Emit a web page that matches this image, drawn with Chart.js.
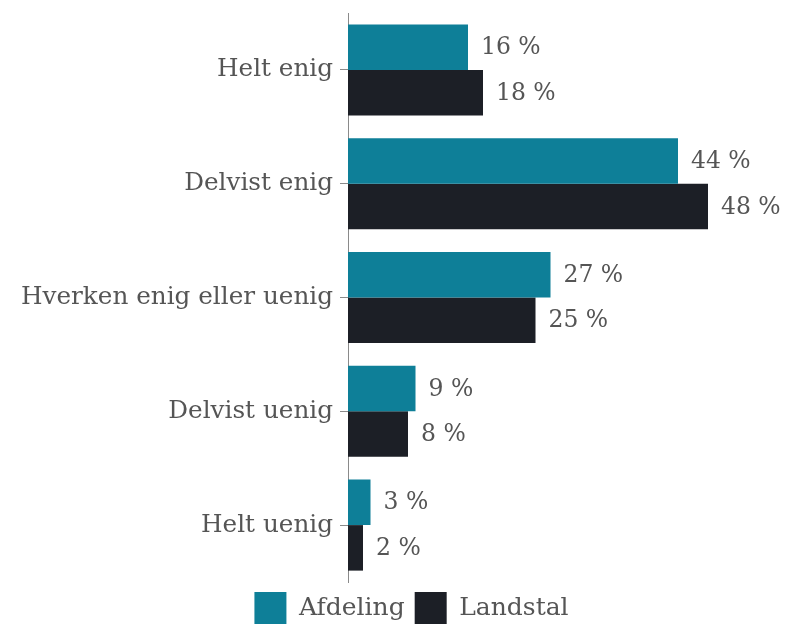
<!DOCTYPE html>
<html>
<head>
<meta charset="utf-8">
<script src="https://cdn.jsdelivr.net/npm/chart.js@4/dist/chart.umd.min.js"></script>
<style>
  html, body { margin: 0; padding: 0; background: #fff; }
  #wrap { width: 789px; height: 631px; }
</style>
</head>
<body>
<div id="wrap"><canvas id="myChart"></canvas></div>
<script>
const categories = ['Helt enig', 'Delvist enig', 'Hverken enig eller uenig', 'Delvist uenig', 'Helt uenig'];
const afdeling = [16, 44, 27, 9, 3];
const landstal = [18, 48, 25, 8, 2];
const seriesNames = ['Afdeling', 'Landstal'];

const serif = "'DejaVu Serif', Georgia, serif";

// draws "16 %" style labels to the right of each bar
const valueLabels = {
  id: 'valueLabels',
  afterLayout(chart) {
    // legend sits a bit right of centre in the original
    chart.legend.left += 20;
    chart.legend.right += 20;
  },
  afterDatasetsDraw(chart) {
    const ctx = chart.ctx;
    ctx.save();
    ctx.font = '23.5px ' + serif;
    ctx.fillStyle = '#555';
    ctx.textBaseline = 'middle';
    chart.data.datasets.forEach((ds, i) => {
      chart.getDatasetMeta(i).data.forEach((bar, j) => {
        ctx.fillText(ds.data[j] + ' %', bar.x + 13, bar.y + 1);
      });
    });
    ctx.restore();
  }
};

const ctx = document.getElementById('myChart');
const myChart = new Chart(ctx, {
  type: 'bar',
  data: {
    labels: categories,
    datasets: [
      { label: seriesNames[0], data: afdeling, backgroundColor: '#0e7f98' },
      { label: seriesNames[1], data: landstal, backgroundColor: '#1c1f26' }
    ]
  },
  options: {
    indexAxis: 'y',
    responsive: true,
    maintainAspectRatio: false,
    animation: false,
    layout: { padding: { top: 0, right: 6, left: 0, bottom: -3 } },
    categoryPercentage: 0.8,
    barPercentage: 1.0,
    scales: {
      x: { display: false, min: 0, max: 58 },
      y: {
        afterFit: (s) => { s.width = 348; s.paddingTop = 13; s.paddingBottom = 0; },
        border: { display: true, color: '#8a8a8a', width: 1 },
        grid: { display: true, drawOnChartArea: false, offset: false, tickLength: 8, color: '#8a8a8a' },
        ticks: { color: '#555', font: { family: serif, size: 24.7 }, padding: 7 }
      }
    },
    plugins: {
      legend: {
        position: 'bottom',
        labels: {
          color: '#555',
          font: { family: serif, size: 25 },
          boxWidth: 32,
          boxHeight: 32,
          padding: 10
        }
      },
      tooltip: { enabled: false }
    }
  },
  plugins: [valueLabels]
});
</script>
</body>
</html>
